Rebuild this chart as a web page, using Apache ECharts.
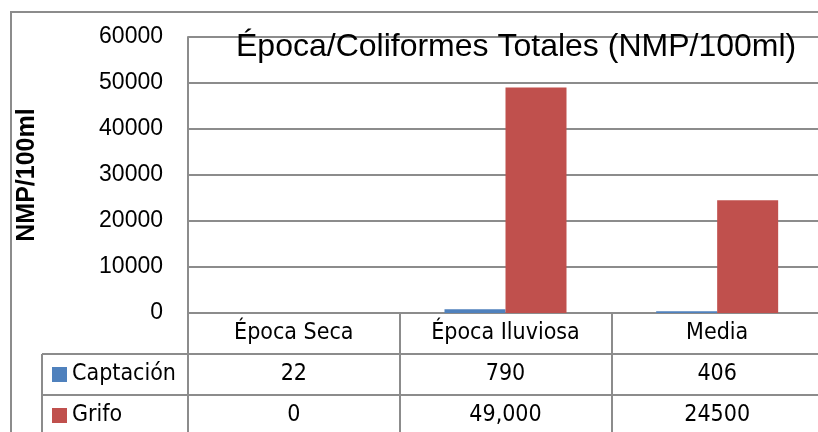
<!DOCTYPE html>
<html>
<head>
<meta charset="utf-8">
<script src="https://cdn.jsdelivr.net/npm/echarts@6/dist/echarts.min.js"></script>
<style>
  html, body { margin: 0; padding: 0; background: #fff; }
  #chart { width: 818px; height: 432px; }
</style>
</head>
<body>
<div id="chart"></div>
<script>
    'use strict';
    // datos
    var categorias = ['Época Seca', 'Época Iluviosa', 'Media'];
    var captacion = [22, 790, 406];
    var grifo = [0, 49000, 24500];
    // texto tal como sale en la tabla de datos
    var captacionTexto = ['22', '790', '406'];
    var grifoTexto = ['0', '49,000', '24500'];
    var series = ['Captación', 'Grifo'];

    var gris = '#8c8c8c';
    var fuenteTabla = "'Liberation Sans Narrow', 'DejaVu Sans Condensed', sans-serif";

    // una leyenda por fila de la tabla
    function leyenda(nombre, top) {
        return {
            data: [nombre],
            left: 52,
            top: top,
            padding: 0,
            itemWidth: 15,
            itemHeight: 15,
            icon: 'rect',
            textStyle: { fontFamily: fuenteTabla, fontSize: 23, color: '#000', lineHeight: 41 }
        };
    }

    var myChart = echarts.init(document.getElementById('chart'));
    var option = {
        animation: false,
        backgroundColor: '#fff',
        title: {
            text: 'Época/Coliformes Totales (NMP/100ml)',
            left: 236,
            top: 31,
            padding: 0,
            textStyle: { fontFamily: 'Liberation Sans', fontSize: 32, fontWeight: 'normal', color: '#000' }
        },
        legend: [leyenda(series[0], 354), leyenda(series[1], 395)],
        grid: { left: 188, top: 37, width: 635, height: 276, outerBoundsMode: 'none', containLabel: false },
        xAxis: {
            type: 'category',
            data: categorias,
            axisLine: { lineStyle: { color: gris, width: 2 } },
            axisTick: { show: true, interval: 0, length: 130, lineStyle: { color: gris, width: 2 } },
            axisLabel: {
                interval: 0,
                margin: 0,
                fontFamily: fuenteTabla,
                fontSize: 23,
                color: '#000',
                lineHeight: 41,
                formatter: function (v, i) {
                    return v + '\n' + captacionTexto[i] + '\n' + grifoTexto[i];
                }
            }
        },
        yAxis: {
            type: 'value',
            min: 0,
            max: 60000,
            interval: 10000,
            name: 'NMP/100ml',
            nameLocation: 'middle',
            nameRotate: 90,
            nameGap: 148,
            nameTextStyle: { fontFamily: 'Liberation Sans', fontSize: 25, fontWeight: 'bold', color: '#000' },
            axisLine: { show: true, lineStyle: { color: gris, width: 2 } },
            axisTick: { show: false },
            axisLabel: {
                margin: 25, fontFamily: 'Liberation Sans', fontSize: 23, color: '#000',
                formatter: function (v) { return String(v); }
            },
            splitLine: { lineStyle: { color: gris, width: 2 } }
        },
        series: [
            {
                name: series[0],
                type: 'bar',
                data: captacion,
                barWidth: 61,
                barGap: '0%',
                itemStyle: { color: '#4F81BD' }
            },
            {
                name: series[1],
                type: 'bar',
                data: grifo,
                barWidth: 61,
                barGap: '0%',
                itemStyle: { color: '#C0504D' }
            }
        ],
        graphic: [
            // marco del grafico
            { type: 'rect', shape: { x: 11, y: 12, width: 830, height: 440 }, style: { fill: 'none', stroke: gris, lineWidth: 2 }, silent: true },
            // lineas de la tabla de datos
            { type: 'line', shape: { x1: 42, y1: 354, x2: 830, y2: 354 }, style: { stroke: gris, lineWidth: 2 } },
            { type: 'line', shape: { x1: 42, y1: 395, x2: 830, y2: 395 }, style: { stroke: gris, lineWidth: 2 } },
            { type: 'line', shape: { x1: 42, y1: 354, x2: 42, y2: 440 }, style: { stroke: gris, lineWidth: 2 } }
        ]
    };
    myChart.setOption(option);
</script>
</body>
</html>
